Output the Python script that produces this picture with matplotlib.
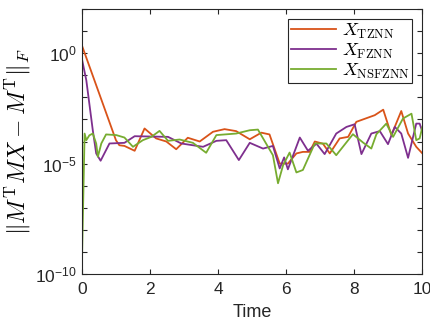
import numpy as np
import matplotlib
matplotlib.use('Agg')
import matplotlib.pyplot as plt
from matplotlib.ticker import FixedLocator, FuncFormatter

plt.rcParams['mathtext.fontset'] = 'cm'
plt.rcParams['font.family'] = ['Liberation Sans', 'DejaVu Sans']

# log10 of the error
t_tznn = [0, 1.0, 1.1, 1.25, 1.55, 1.84, 2.18, 2.48, 2.77, 3.11, 3.46, 3.85, 4.19, 4.53, 4.93, 5.27,
          5.51, 5.81, 6.05, 6.3, 6.49, 6.69, 6.84, 7.08, 7.28, 7.57, 7.82, 8.06, 8.6, 8.85, 9.09,
          9.38, 9.58, 9.82, 10]
e_tznn = [0.35, -3.94, -4.17, -4.2, -4.42, -3.41, -3.86, -4.0, -4.35, -3.83, -4.0, -3.56, -3.44, -3.53,
          -3.9, -3.6, -3.68, -5.0, -5.0, -4.54, -4.47, -4.47, -4.0, -4.1, -4.54, -3.86, -3.79, -3.11,
          -2.81, -2.56, -3.71, -2.62, -3.64, -4.24, -4.54]

t_fznn = [0, 0.13, 0.32, 0.42, 0.55, 0.81, 1.25, 1.55, 2.53, 2.92, 3.56, 3.95, 4.24, 4.61, 4.93,
          5.32, 5.61, 5.81, 5.94, 6.05, 6.4, 6.64, 6.89, 7.13, 7.47, 7.77, 8.01, 8.21, 8.5, 8.75,
          8.99, 9.19, 9.38, 9.58, 9.82, 9.92, 10]
e_fznn = [-0.26, -1.23, -3.49, -4.54, -4.87, -4.09, -4.06, -3.76, -3.79, -4.09, -4.24, -3.97, -3.94,
          -4.84, -4.06, -4.32, -4.2, -5.22, -4.72, -5.26, -3.82, -4.42, -4.1, -4.57, -3.64, -3.34,
          -3.22, -4.57, -3.64, -3.53, -4.12, -3.34, -3.64, -4.74, -3.19, -3.19, -3.56]

t_nsfznn = [0, 0.005, 0.08, 0.13, 0.22, 0.32, 0.42, 0.47, 0.57, 0.71, 1.01, 1.25, 1.5, 1.79, 2.04,
            2.28, 2.53, 2.87, 3.26, 3.65, 3.95, 4.53, 4.93, 5.17, 5.61, 5.76, 5.91, 6.1, 6.3, 6.49,
            6.84, 7.18, 7.47, 7.96, 8.26, 8.5, 8.65, 8.94, 9.14, 9.43, 9.68, 9.82, 9.92, 10]
e_nsfznn = [0.35, -9.2, -3.64, -3.94, -3.72, -3.64, -4.09, -4.69, -4.09, -3.68, -3.71, -3.82, -4.24,
            -3.94, -3.79, -3.52, -3.97, -3.91, -4.06, -4.51, -3.71, -3.64, -3.49, -3.46, -4.62, -5.89,
            -5.07, -4.5, -5.4, -5.29, -4.09, -4.09, -4.62, -3.67, -4.05, -4.32, -3.67, -3.19, -3.79,
            -2.96, -2.74, -3.94, -3.86, -3.34]

fig = plt.figure(figsize=(4.31, 3.31), dpi=100)
ax = fig.add_axes([0.19, 0.172, 0.79, 0.801])

ax.plot(t_tznn, 10.0 ** np.array(e_tznn), color='#D95319', lw=1.3, label=r'$X_{\mathrm{TZNN}}$')
ax.plot(t_fznn, 10.0 ** np.array(e_fznn), color='#7E2F8E', lw=1.3, label=r'$X_{\mathrm{FZNN}}$')
ax.plot(t_nsfznn, 10.0 ** np.array(e_nsfznn), color='#77AC30', lw=1.3, label=r'$X_{\mathrm{NSFZNN}}$')

ax.set_yscale('log')
ax.set_xlim(0, 10)
ax.set_ylim(1e-10, 1e2)
ax.set_xticks([0, 2, 4, 6, 8, 10])
ax.yaxis.set_major_locator(FixedLocator([10.0 ** k for k in range(-10, 3)]))
ax.yaxis.set_minor_locator(FixedLocator([]))

def fmt(v, pos):
    k = int(round(np.log10(v)))
    if k % 5 == 0:
        return r'$\mathdefault{10^{%d}}$' % k
    return ''

ax.yaxis.set_major_formatter(FuncFormatter(fmt))
ax.tick_params(direction='in', top=True, right=True, labelsize=12.5, length=3.5,
               color='#262626', labelcolor='#262626')
ax.tick_params(axis='x', pad=6)
for s in ax.spines.values():
    s.set_color('#262626')

ax.set_xlabel('Time', fontsize=13, color='#262626', labelpad=5)
ax.set_ylabel(r'$\|M^{\mathrm{T}}MX-M^{\mathrm{T}}\|_F$', fontsize=17, labelpad=2)

leg = ax.legend(loc='upper right', fontsize=13, fancybox=False, edgecolor='#262626',
                framealpha=1, borderpad=0.15, labelspacing=0.05, handlelength=2.5,
                handletextpad=0.3, borderaxespad=0.55)
leg.get_frame().set_linewidth(0.8)

fig.savefig('out.png', dpi=100)
